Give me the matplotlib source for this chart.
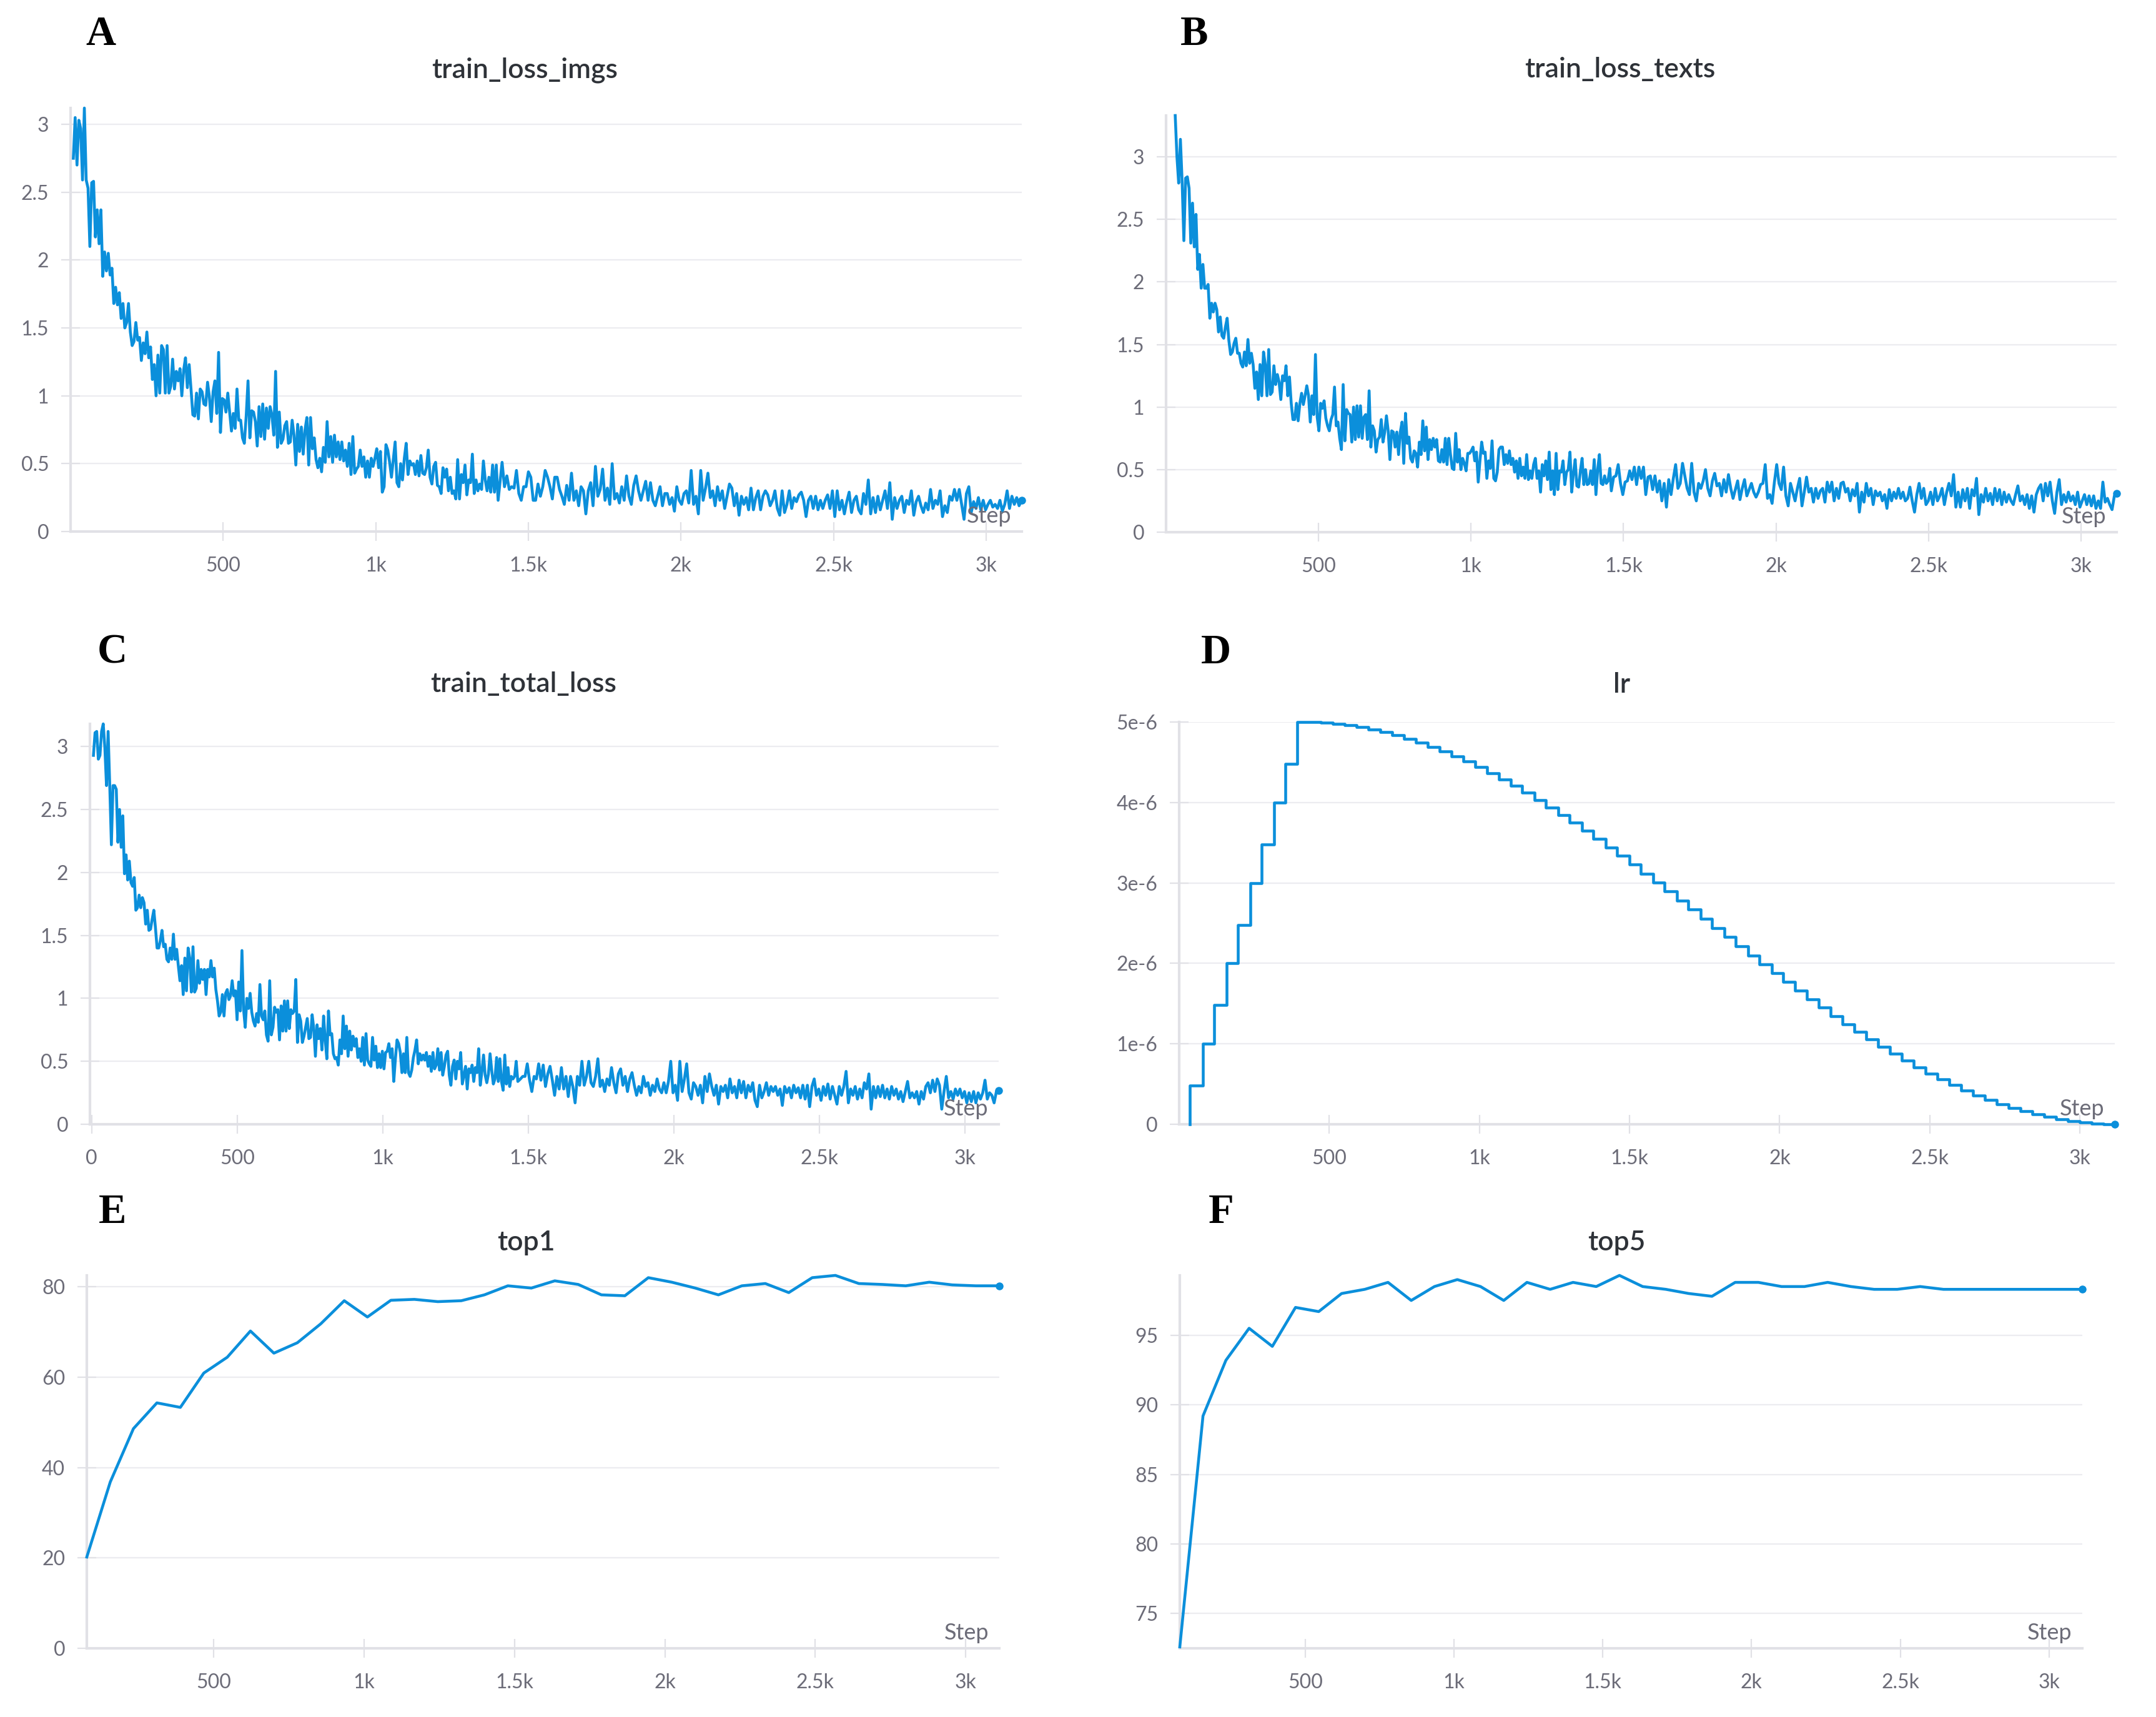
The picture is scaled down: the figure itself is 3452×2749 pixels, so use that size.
import numpy as np
import matplotlib
matplotlib.use("Agg")
import matplotlib.pyplot as plt
from matplotlib.ticker import FuncFormatter

# training curves, values
# train_loss_imgs: first part (steps ~9..1401) and second part (steps ~1414..3114)
imgs_a = [2.75, 3.05, 2.70, 3.03, 2.97, 2.59, 3.12, 2.59, 2.53, 2.10, 2.57, 2.58, 2.17, 2.37, 2.12, 2.37, 1.88, 2.06,
          1.92, 2.05, 1.89, 1.94, 1.68, 1.80, 1.67, 1.76, 1.57, 1.68, 1.50, 1.54, 1.68, 1.47, 1.37, 1.40, 1.54, 1.41,
          1.43, 1.26, 1.39, 1.31, 1.47, 1.28, 1.36, 1.12, 1.23, 1.00, 1.30, 1.02, 1.37, 1.34, 1.02, 1.37, 1.02, 1.07,
          1.27, 1.05, 1.18, 1.11, 1.20, 1.00, 1.19, 1.28, 1.06, 1.23, 1.05, 0.86, 0.85, 1.02, 0.83, 1.05, 1.03, 0.94,
          0.93, 1.10, 0.99, 0.81, 1.03, 1.11, 0.87, 1.32, 0.73, 0.98, 0.97, 0.88, 1.02, 0.88, 0.74, 0.87, 0.76, 1.05,
          0.82, 0.82, 0.69, 0.65, 0.85, 1.11, 0.69, 0.89, 0.88, 0.81, 0.63, 0.92, 0.70, 0.94, 0.68, 0.91, 0.76, 0.92,
          0.86, 0.71, 1.18, 0.62, 0.88, 0.65, 0.68, 0.78, 0.81, 0.65, 0.66, 0.82, 0.71, 0.49, 0.79, 0.59, 0.77, 0.57,
          0.75, 0.84, 0.49, 0.84, 0.61, 0.69, 0.53, 0.47, 0.54, 0.44, 0.62, 0.51, 0.81, 0.55, 0.70, 0.51, 0.71, 0.55,
          0.66, 0.53, 0.66, 0.52, 0.60, 0.48, 0.65, 0.42, 0.70, 0.43, 0.46, 0.48, 0.60, 0.48, 0.55, 0.40, 0.52, 0.40,
          0.54, 0.48, 0.54, 0.61, 0.47, 0.59, 0.29, 0.33, 0.64, 0.60, 0.51, 0.40, 0.53, 0.66, 0.36, 0.33, 0.50, 0.38,
          0.54, 0.65, 0.42, 0.52, 0.49, 0.50, 0.42, 0.52, 0.41, 0.56, 0.43, 0.42, 0.47, 0.60, 0.40, 0.35, 0.48, 0.51,
          0.34, 0.33, 0.28, 0.47, 0.40, 0.46, 0.30, 0.40, 0.28, 0.30, 0.24, 0.53, 0.24, 0.42, 0.36, 0.49, 0.27, 0.38,
          0.36, 0.57, 0.28, 0.38, 0.30, 0.35, 0.31, 0.52, 0.38, 0.30, 0.40, 0.29, 0.49, 0.29, 0.49, 0.23]
imgs_b = [0.51, 0.33, 0.41, 0.31, 0.33, 0.32, 0.45, 0.28, 0.23, 0.33, 0.33, 0.44, 0.40, 0.23, 0.23, 0.35, 0.26, 0.33,
          0.45, 0.40, 0.33, 0.24, 0.40, 0.40, 0.31, 0.26, 0.20, 0.34, 0.23, 0.43, 0.23, 0.30, 0.19, 0.33, 0.30, 0.13,
          0.30, 0.36, 0.19, 0.48, 0.26, 0.31, 0.46, 0.23, 0.32, 0.20, 0.50, 0.24, 0.28, 0.21, 0.33, 0.23, 0.41, 0.26,
          0.20, 0.34, 0.41, 0.30, 0.23, 0.30, 0.37, 0.23, 0.36, 0.23, 0.19, 0.26, 0.33, 0.19, 0.28, 0.28, 0.20, 0.25,
          0.15, 0.33, 0.23, 0.20, 0.28, 0.30, 0.21, 0.45, 0.20, 0.26, 0.13, 0.45, 0.23, 0.32, 0.43, 0.25, 0.30, 0.19,
          0.33, 0.23, 0.30, 0.17, 0.26, 0.35, 0.32, 0.19, 0.28, 0.12, 0.26, 0.20, 0.25, 0.16, 0.32, 0.16, 0.25, 0.30,
          0.16, 0.26, 0.30, 0.27, 0.19, 0.23, 0.30, 0.17, 0.12, 0.30, 0.14, 0.20, 0.30, 0.17, 0.25, 0.22, 0.27, 0.29,
          0.23, 0.11, 0.23, 0.26, 0.17, 0.26, 0.16, 0.23, 0.17, 0.23, 0.27, 0.17, 0.30, 0.11, 0.30, 0.16, 0.23, 0.13,
          0.22, 0.29, 0.14, 0.23, 0.26, 0.16, 0.13, 0.28, 0.20, 0.38, 0.13, 0.25, 0.14, 0.26, 0.16, 0.23, 0.30, 0.17,
          0.36, 0.09, 0.25, 0.17, 0.23, 0.26, 0.14, 0.23, 0.20, 0.30, 0.12, 0.22, 0.26, 0.19, 0.14, 0.21, 0.16, 0.31,
          0.17, 0.23, 0.20, 0.30, 0.11, 0.19, 0.14, 0.26, 0.23, 0.31, 0.23, 0.31, 0.20, 0.09, 0.28, 0.33, 0.14, 0.22,
          0.17, 0.25, 0.16, 0.23, 0.16, 0.20, 0.23, 0.18, 0.20, 0.17, 0.23, 0.15, 0.20, 0.30, 0.17, 0.26, 0.20, 0.25,
          0.19, 0.23]

# train_loss_texts: steps ~30..1455 and ~1460..3117
texts_a = [3.33, 3.00, 2.79, 3.14, 2.80, 2.33, 2.83, 2.84, 2.75, 2.31, 2.63, 2.28, 2.54, 2.10, 2.22, 1.95, 2.14, 1.95,
           1.95, 1.98, 1.71, 1.83, 1.76, 1.83, 1.78, 1.60, 1.72, 1.57, 1.55, 1.64, 1.71, 1.53, 1.42, 1.44, 1.51, 1.55,
           1.43, 1.43, 1.35, 1.32, 1.44, 1.33, 1.54, 1.35, 1.43, 1.34, 1.15, 1.28, 1.06, 1.34, 1.09, 1.44, 1.34, 1.09,
           1.46, 1.10, 1.12, 1.33, 1.18, 1.26, 1.20, 1.06, 1.25, 1.21, 1.33, 1.09, 1.24, 1.03, 0.90, 0.90, 1.03, 0.89,
           1.03, 1.11, 1.02, 1.09, 1.17, 1.09, 0.88, 1.09, 0.94, 1.42, 0.92, 0.81, 1.03, 0.99, 1.05, 0.91, 0.85, 0.81,
           0.90, 0.94, 1.16, 0.85, 0.88, 0.75, 0.66, 1.18, 0.73, 0.98, 0.95, 0.94, 0.72, 1.00, 0.74, 1.01, 0.76, 1.01,
           0.75, 0.92, 0.94, 0.74, 1.13, 0.68, 0.85, 0.81, 0.64, 0.74, 0.76, 0.90, 0.72, 0.80, 0.93, 0.81, 0.58, 0.81,
           0.80, 0.68, 0.80, 0.62, 0.80, 0.88, 0.55, 0.95, 0.71, 0.76, 0.59, 0.56, 0.65, 0.63, 0.52, 0.72, 0.62, 0.89,
           0.65, 0.84, 0.58, 0.74, 0.66, 0.75, 0.68, 0.74, 0.57, 0.56, 0.66, 0.56, 0.75, 0.54, 0.75, 0.62, 0.51, 0.50,
           0.79, 0.56, 0.66, 0.50, 0.59, 0.55, 0.49, 0.63, 0.63, 0.65, 0.68, 0.57, 0.64, 0.40, 0.57, 0.72, 0.63, 0.64,
           0.43, 0.57, 0.51, 0.73, 0.43, 0.41, 0.48, 0.66, 0.68, 0.68, 0.54, 0.62, 0.55, 0.65, 0.54, 0.59, 0.48, 0.57,
           0.43, 0.59, 0.45, 0.52, 0.43, 0.62, 0.42, 0.49, 0.43, 0.54, 0.59, 0.43, 0.49, 0.32, 0.54, 0.45, 0.57, 0.42,
           0.64, 0.34, 0.49, 0.30, 0.63, 0.34, 0.49, 0.48, 0.57, 0.38, 0.48, 0.50, 0.64, 0.32, 0.47, 0.58, 0.37, 0.36,
           0.49, 0.59, 0.38, 0.50, 0.38, 0.39, 0.49, 0.38, 0.58, 0.30, 0.50, 0.62, 0.39, 0.38, 0.45, 0.39, 0.41, 0.51]
texts_b = [0.33, 0.44, 0.45, 0.54, 0.39, 0.30, 0.40, 0.41, 0.49, 0.42, 0.52, 0.38, 0.52, 0.43, 0.52, 0.30, 0.44, 0.45,
           0.34, 0.45, 0.32, 0.41, 0.25, 0.39, 0.20, 0.42, 0.30, 0.43, 0.54, 0.35, 0.39, 0.55, 0.45, 0.35, 0.30, 0.55,
           0.32, 0.25, 0.39, 0.35, 0.41, 0.50, 0.35, 0.29, 0.41, 0.47, 0.37, 0.39, 0.29, 0.42, 0.32, 0.46, 0.35, 0.27,
           0.34, 0.41, 0.26, 0.35, 0.42, 0.29, 0.34, 0.39, 0.32, 0.28, 0.32, 0.38, 0.39, 0.54, 0.27, 0.30, 0.23, 0.40,
           0.54, 0.39, 0.34, 0.52, 0.29, 0.21, 0.39, 0.32, 0.25, 0.35, 0.43, 0.21, 0.32, 0.44, 0.32, 0.35, 0.24, 0.35,
           0.27, 0.33, 0.35, 0.24, 0.40, 0.32, 0.40, 0.25, 0.35, 0.27, 0.39, 0.40, 0.32, 0.35, 0.25, 0.34, 0.29, 0.39,
           0.16, 0.32, 0.24, 0.39, 0.29, 0.35, 0.22, 0.33, 0.29, 0.32, 0.25, 0.30, 0.19, 0.34, 0.25, 0.32, 0.27, 0.35,
           0.27, 0.32, 0.25, 0.27, 0.36, 0.25, 0.16, 0.30, 0.39, 0.27, 0.35, 0.22, 0.25, 0.32, 0.22, 0.35, 0.25, 0.29,
           0.35, 0.22, 0.32, 0.39, 0.29, 0.46, 0.20, 0.32, 0.20, 0.34, 0.25, 0.35, 0.19, 0.34, 0.29, 0.43, 0.14, 0.30,
           0.24, 0.35, 0.25, 0.31, 0.22, 0.35, 0.25, 0.34, 0.22, 0.32, 0.24, 0.30, 0.25, 0.22, 0.30, 0.37, 0.25, 0.29,
           0.22, 0.30, 0.19, 0.29, 0.16, 0.30, 0.35, 0.38, 0.25, 0.39, 0.29, 0.40, 0.25, 0.15, 0.32, 0.42, 0.22, 0.30,
           0.24, 0.32, 0.25, 0.29, 0.22, 0.32, 0.20, 0.25, 0.30, 0.22, 0.29, 0.21, 0.29, 0.19, 0.25, 0.19, 0.40, 0.24,
           0.27, 0.22, 0.18, 0.29, 0.31]

# train_total_loss: steps ~6..1464 and ~1473..3116
total_a = [2.93, 3.11, 3.12, 2.90, 2.93, 3.12, 3.18, 2.99, 2.69, 3.12, 2.69, 2.22, 2.69, 2.69, 2.66, 2.24, 2.50, 2.20,
           2.45, 1.99, 2.14, 1.94, 2.09, 1.92, 1.89, 1.96, 1.70, 1.72, 1.82, 1.72, 1.80, 1.76, 1.59, 1.70, 1.54, 1.55,
           1.63, 1.70, 1.56, 1.40, 1.40, 1.46, 1.54, 1.41, 1.43, 1.31, 1.29, 1.40, 1.31, 1.51, 1.31, 1.39, 1.26, 1.14,
           1.26, 1.03, 1.32, 1.06, 1.40, 1.32, 1.05, 1.41, 1.05, 1.08, 1.30, 1.12, 1.23, 1.15, 1.23, 1.03, 1.23, 1.17,
           1.30, 1.17, 1.24, 1.07, 0.98, 0.86, 0.89, 1.03, 0.86, 1.04, 1.07, 0.99, 1.02, 1.14, 1.02, 1.06, 0.83, 1.13,
           0.90, 1.38, 0.91, 0.77, 1.00, 0.92, 1.04, 0.89, 0.82, 0.78, 0.88, 0.81, 1.11, 0.86, 0.83, 0.90, 0.71, 0.66,
           1.14, 0.71, 0.77, 0.93, 0.89, 0.91, 0.67, 0.94, 0.74, 0.98, 0.74, 0.98, 0.76, 0.91, 0.88, 0.90, 1.15, 0.65,
           0.87, 0.82, 0.65, 0.70, 0.77, 0.84, 0.68, 0.69, 0.87, 0.76, 0.54, 0.79, 0.68, 0.76, 0.59, 0.86, 0.67, 0.52,
           0.90, 0.71, 0.72, 0.56, 0.52, 0.53, 0.47, 0.67, 0.56, 0.86, 0.60, 0.78, 0.54, 0.74, 0.59, 0.70, 0.62, 0.68,
           0.53, 0.60, 0.50, 0.69, 0.47, 0.72, 0.51, 0.48, 0.46, 0.69, 0.51, 0.62, 0.45, 0.56, 0.45, 0.58, 0.44, 0.57,
           0.58, 0.64, 0.53, 0.60, 0.34, 0.52, 0.67, 0.64, 0.57, 0.41, 0.56, 0.41, 0.69, 0.41, 0.38, 0.43, 0.53, 0.59,
           0.67, 0.48, 0.56, 0.51, 0.55, 0.51, 0.57, 0.46, 0.54, 0.42, 0.57, 0.44, 0.47, 0.60, 0.43, 0.57, 0.39, 0.46,
           0.55, 0.58, 0.39, 0.31, 0.46, 0.51, 0.36, 0.50, 0.44, 0.57, 0.32, 0.39, 0.46, 0.28, 0.44, 0.41, 0.47, 0.34,
           0.45, 0.41, 0.60, 0.31, 0.42, 0.55, 0.39, 0.33, 0.40, 0.56, 0.43, 0.32, 0.36, 0.53, 0.34, 0.52, 0.34, 0.27,
           0.55, 0.32, 0.45, 0.30, 0.38, 0.36, 0.38, 0.50, 0.34]
total_b = [0.36, 0.38, 0.38, 0.48, 0.35, 0.26, 0.38, 0.36, 0.48, 0.35, 0.47, 0.30, 0.40, 0.46, 0.35, 0.23, 0.38, 0.28,
           0.45, 0.28, 0.38, 0.22, 0.38, 0.30, 0.17, 0.38, 0.31, 0.50, 0.31, 0.38, 0.50, 0.33, 0.30, 0.38, 0.52, 0.30,
           0.35, 0.26, 0.36, 0.31, 0.45, 0.33, 0.25, 0.40, 0.44, 0.31, 0.38, 0.26, 0.36, 0.41, 0.31, 0.23, 0.30, 0.25,
           0.38, 0.30, 0.33, 0.23, 0.31, 0.26, 0.36, 0.28, 0.25, 0.33, 0.25, 0.34, 0.50, 0.25, 0.31, 0.19, 0.50, 0.26,
           0.36, 0.48, 0.25, 0.20, 0.33, 0.30, 0.23, 0.31, 0.17, 0.38, 0.26, 0.40, 0.30, 0.23, 0.31, 0.16, 0.30, 0.26,
           0.31, 0.21, 0.36, 0.25, 0.30, 0.21, 0.35, 0.25, 0.34, 0.21, 0.31, 0.26, 0.33, 0.19, 0.14, 0.31, 0.21, 0.26,
           0.33, 0.23, 0.30, 0.26, 0.30, 0.23, 0.28, 0.15, 0.30, 0.25, 0.29, 0.21, 0.31, 0.25, 0.29, 0.21, 0.31, 0.20,
           0.31, 0.14, 0.30, 0.36, 0.23, 0.28, 0.19, 0.30, 0.23, 0.32, 0.20, 0.30, 0.23, 0.16, 0.30, 0.23, 0.30, 0.42,
           0.17, 0.28, 0.23, 0.30, 0.20, 0.28, 0.21, 0.33, 0.28, 0.40, 0.12, 0.30, 0.21, 0.30, 0.22, 0.31, 0.21, 0.28,
           0.20, 0.30, 0.23, 0.28, 0.20, 0.26, 0.18, 0.26, 0.34, 0.21, 0.25, 0.21, 0.26, 0.16, 0.26, 0.20, 0.30, 0.33,
           0.25, 0.35, 0.26, 0.36, 0.31, 0.12, 0.26, 0.38, 0.21, 0.26, 0.20, 0.28, 0.23, 0.28, 0.21, 0.26, 0.17, 0.25,
           0.18, 0.26, 0.17, 0.25, 0.20, 0.25, 0.35, 0.20, 0.25, 0.23, 0.17, 0.26, 0.27]

# learning rate: step where each level starts, and the level (x1e-6)
lr_steps = [35, 79, 116, 158, 195, 237, 274, 316, 353,
            393, 432, 472, 511, 551, 590, 630, 669, 709, 748, 788, 827, 867, 906, 946, 985, 1025, 1064, 1104, 1143,
            1183, 1222, 1262, 1301, 1341, 1380, 1420, 1459, 1499, 1538, 1578, 1617, 1657, 1696, 1736, 1775, 1815,
            1854, 1894, 1933, 1973, 2012, 2052, 2091, 2131, 2170, 2210, 2249, 2289, 2328, 2368, 2407, 2447, 2486,
            2526, 2565, 2605, 2644, 2684, 2723, 2763, 2802, 2842, 2881, 2921, 2960, 3000, 3039, 3079, 3116]
lr_levels = [0.48, 1.00, 1.48, 2.00, 2.48, 3.00, 3.48, 4.00, 4.48,
             5.000, 4.997, 4.990, 4.977, 4.959, 4.935, 4.907, 4.874, 4.836, 4.793, 4.745, 4.692, 4.635, 4.574, 4.508,
             4.438, 4.364, 4.287, 4.205, 4.120, 4.032, 3.940, 3.845, 3.748, 3.648, 3.546, 3.441, 3.335, 3.226, 3.117,
             3.006, 2.893, 2.781, 2.667, 2.553, 2.439, 2.326, 2.212, 2.099, 1.987, 1.876, 1.767, 1.659, 1.553, 1.448,
             1.346, 1.246, 1.149, 1.054, 0.963, 0.875, 0.790, 0.708, 0.631, 0.557, 0.487, 0.422, 0.361, 0.304, 0.252,
             0.204, 0.162, 0.124, 0.091, 0.063, 0.040, 0.022, 0.010, 0.002, 0.000]

# evaluation accuracy
eval_steps = [78, 156, 233, 311, 389, 467, 545, 622, 700, 778, 856, 934, 1011, 1089, 1167, 1245, 1323, 1400, 1478,
              1556, 1634, 1712, 1789, 1867, 1945, 2023, 2101, 2178, 2256, 2334, 2412, 2490, 2567, 2645, 2723, 2801,
              2879, 2956, 3034, 3112]
top1 = [20.2, 36.8, 48.6, 54.3, 53.3, 60.9, 64.4, 70.2, 65.3, 67.6, 71.8, 76.9, 73.3, 77.0, 77.2, 76.7, 76.9, 78.2,
        80.2, 79.7, 81.3, 80.5, 78.2, 78.0, 82.0, 81.0, 79.7, 78.2, 80.2, 80.7, 78.7, 82.0, 82.5, 80.7, 80.5, 80.2,
        81.0, 80.4, 80.2, 80.2]
top5 = [72.6, 89.2, 93.2, 95.5, 94.2, 97.0, 96.7, 98.0, 98.3, 98.8, 97.5, 98.5, 99.0, 98.5, 97.5, 98.8, 98.3, 98.8,
        98.5, 99.3, 98.5, 98.3, 98.0, 97.8, 98.8, 98.8, 98.5, 98.5, 98.8, 98.5, 98.3, 98.3, 98.5, 98.3, 98.3, 98.3,
        98.3, 98.3, 98.3, 98.3]

# logged steps of the loss samples (samples are evenly spread inside each part)
imgs_x = np.concatenate([np.linspace(9, 1401, len(imgs_a)), np.linspace(1414, 3116, len(imgs_b))])
texts_x = np.concatenate([np.linspace(30, 1455, len(texts_a)), np.linspace(1460, 3117, len(texts_b))])
total_x = np.concatenate([np.linspace(6, 1464, len(total_a)), np.linspace(1473, 3116, len(total_b))])

BLUE = "#0b8fdb"
GRID = "#ececf0"
SPINE = "#e1e1e6"
TICK_TXT = "#6c6c78"
TITLE_TXT = "#2e3238"

plt.rcParams["font.family"] = ["Lato", "DejaVu Sans"]

W, H = 3452, 2749
fig = plt.figure(figsize=(W / 100, H / 100), dpi=100)


def add_axes(left, top, right, bottom):
    # rectangle given in pixels from the top left corner
    return fig.add_axes([left / W, 1 - bottom / H, (right - left) / W, (bottom - top) / H])


def step_fmt(v, pos):
    if v == 0:
        return "0"
    if v >= 1000:
        return f"{v / 1000:g}k"
    return f"{v:g}"


def style(ax, xlim, ylim, xticks, yticks, ylabels):
    ax.set_xlim(*xlim)
    ax.set_ylim(*ylim)
    ax.set_xticks(xticks)
    ax.xaxis.set_major_formatter(FuncFormatter(step_fmt))
    ax.set_yticks(yticks)
    ax.set_yticklabels(ylabels)
    for s in ["top", "right"]:
        ax.spines[s].set_visible(False)
    for s in ["left", "bottom"]:
        ax.spines[s].set_color(SPINE)
        ax.spines[s].set_linewidth(3)
    ax.grid(axis="y", color=GRID, linewidth=1.6)
    ax.set_axisbelow(True)
    ax.tick_params(axis="both", direction="inout", length=22, width=1.6, color=SPINE,
                   labelsize=23, labelcolor=TICK_TXT)
    ax.tick_params(axis="x", pad=18)
    ax.tick_params(axis="y", pad=14)
    ax.annotate("Step", xy=(1, 0), xycoords="axes fraction", xytext=(-12, 6), textcoords="offset points",
                ha="right", va="bottom", fontsize=26, color=TICK_TXT)


def curve(ax, x, y, **kw):
    ax.plot(x, y, color=BLUE, linewidth=3.3, clip_on=False, zorder=3, **kw)
    ax.plot([x[-1]], [y[-1]], "o", color=BLUE, markersize=8, clip_on=False, zorder=4)


ticks_k = [500, 1000, 1500, 2000, 2500, 3000]
loss_ticks = [0, 0.5, 1, 1.5, 2, 2.5, 3]
loss_labels = ["0", "0.5", "1", "1.5", "2", "2.5", "3"]

# A
ax = add_axes(113, 173, 1636, 851)
curve(ax, imgs_x, imgs_a + imgs_b)
style(ax, (0, 3117), (0, max(imgs_a)), ticks_k, loss_ticks, loss_labels)

# B
ax = add_axes(1867, 185, 3389, 852)
curve(ax, texts_x, texts_a + texts_b)
style(ax, (0, 3117), (0, max(texts_a)), ticks_k, loss_ticks, loss_labels)

# C
ax = add_axes(144, 1159, 1599, 1800)
curve(ax, total_x, total_a + total_b)
style(ax, (-6, 3116), (0, max(total_a)), [0] + ticks_k, loss_ticks, loss_labels)

# D
ax = add_axes(1888, 1156, 3386, 1800)
lr_x = [lr_steps[0]] + lr_steps
lr_y = [0.0] + [v * 1e-6 for v in lr_levels]
ax.plot(lr_x, lr_y, color=BLUE, linewidth=3.3, drawstyle="steps-post", clip_on=False, zorder=3)
ax.plot([lr_x[-1]], [lr_y[-1]], "o", color=BLUE, markersize=8, clip_on=False, zorder=4)
style(ax, (0, 3116), (0, 5e-6), ticks_k, [0, 1e-6, 2e-6, 3e-6, 4e-6, 5e-6],
      ["0", "1e-6", "2e-6", "3e-6", "4e-6", "5e-6"])

# E
ax = add_axes(139, 2042, 1600, 2639)
curve(ax, eval_steps, top1)
style(ax, (78, 3112), (0, max(top1)), ticks_k, [0, 20, 40, 60, 80], ["0", "20", "40", "60", "80"])

# F
ax = add_axes(1889, 2042, 3334, 2639)
curve(ax, eval_steps, top5)
style(ax, (78, 3112), (72.5, max(top5)), ticks_k, [75, 80, 85, 90, 95], ["75", "80", "85", "90", "95"])

# titles and panel letters (pixel positions)
titles = [("train_loss_imgs", 840, 112), ("train_loss_texts", 2594, 112),
          ("train_total_loss", 838, 1095), ("lr", 2597, 1097),
          ("top1", 842, 1990), ("top5", 2588, 1990)]
for txt, x, y in titles:
    fig.text(x / W, 1 - y / H, txt, ha="center", va="center", fontsize=32, fontweight="semibold",
             color=TITLE_TXT)

letters = [("A", 161, 55), ("B", 1912, 55), ("C", 180, 1045), ("D", 1947, 1045),
           ("E", 180, 1941), ("F", 1955, 1941)]
for txt, x, y in letters:
    fig.text(x / W, 1 - y / H, txt, ha="center", va="center", fontsize=48, fontweight="bold",
             family="Liberation Serif", color="black")

fig.savefig("out.png", dpi=100, facecolor="white")
